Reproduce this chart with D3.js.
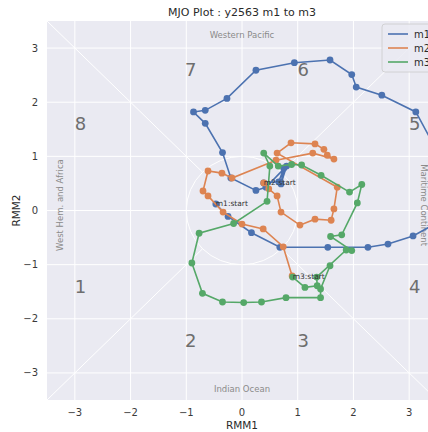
<!DOCTYPE html>
<html>
<head>
<meta charset="utf-8">
<script src="https://cdn.jsdelivr.net/npm/d3@7"></script>
<style>
  html, body { margin: 0; padding: 0; background: #ffffff; }
  svg { display: block; font-family: "DejaVu Sans", sans-serif; }
</style>
</head>
<body>
<svg id="chart" width="428" height="432"></svg>
<script>
// ---- data (RMM1, RMM2) ----
const seriesNames = ["m1", "m2", "m3"];
const m1RMM1 = [-0.47, -0.25, 0.17, 0.68, 1.54, 2.26, 2.62, 3.07, 3.55, 3.65, 3.50, 3.12, 2.51, 2.05, 1.97, 1.58, 0.94, 0.25, -0.27, -0.66, -0.87, -0.66, -0.35, -0.20, 0.25, 0.43, 0.80, 0.70, 0.75, 0.66, 0.39];
const m1RMM2 = [0.12, -0.11, -0.41, -0.68, -0.68, -0.68, -0.62, -0.47, -0.20, 0.45, 1.10, 1.82, 2.13, 2.28, 2.51, 2.78, 2.73, 2.59, 2.07, 1.85, 1.82, 1.61, 1.07, 0.60, 0.37, 0.43, 0.82, 0.49, 0.78, 0.53, 0.51];
const m2RMM1 = [0.39, 0.48, 0.63, 0.70, 1.04, 1.31, 1.60, 1.65, 1.71, 0.63, 0.88, 1.31, 1.47, 1.53, 1.65, 1.27, 0.61, -0.18, -0.36, -0.61, -0.70, -0.61, -0.34, 0.00, 0.38, 0.74, 0.90];
const m2RMM2 = [0.51, 0.40, 0.27, -0.03, -0.27, -0.16, -0.18, 0.03, 0.43, 1.06, 1.25, 1.23, 1.13, 1.02, 0.95, 1.06, 0.93, 0.60, 0.69, 0.73, 0.36, 0.27, -0.03, -0.25, -0.34, -0.67, -1.21];
const m3RMM1 = [0.91, 1.13, 1.35, 1.34, 1.87, 1.97, 1.59, 1.79, 2.07, 2.15, 1.93, 1.42, 1.07, 0.89, 0.65, 0.39, 0.50, 0.45, -0.15, -0.77, -0.90, -0.71, -0.35, 0.03, 0.35, 0.79, 1.41, 1.41, 1.58];
const m3RMM2 = [-1.23, -1.42, -1.39, -1.23, -0.73, -0.74, -0.48, -0.45, 0.14, 0.48, 0.34, 0.65, 0.84, 0.85, 0.82, 1.06, 0.82, 0.17, -0.24, -0.42, -0.97, -1.53, -1.69, -1.70, -1.69, -1.61, -1.61, -1.45, -1.02];
const tickValues = [-3, -2, -1, 0, 1, 2, 3];
const phaseLabels = ["1", "2", "3", "4", "5", "6", "7", "8"];
const regionLabels = ["Western Pacific", "Indian Ocean", "West Hem. and Africa", "Maritime Continent"];
const titleText = "MJO Plot : y2563 m1 to m3";

// ---- styling / layout ----
const colors = ["#4C72B0", "#DD8452", "#55A868"];
const svg = d3.select("#chart");
const x = d3.scaleLinear().domain([-3.5, 3.5]).range([47, 437]);
const y = d3.scaleLinear().domain([-3.5, 3.5]).range([400, 21]);
const [x0, x1] = x.range();
const [y1, y0] = y.range();

svg.append("defs").append("clipPath").attr("id", "plotclip")
  .append("rect").attr("x", x0).attr("y", y0).attr("width", x1 - x0).attr("height", y1 - y0);

// background
svg.append("rect").attr("x", x0).attr("y", y0).attr("width", x1 - x0).attr("height", y1 - y0)
  .attr("fill", "#EAEAF2");

const plot = svg.append("g").attr("clip-path", "url(#plotclip)");

// grid
plot.selectAll(".gx").data(tickValues).join("line")
  .attr("x1", d => x(d)).attr("x2", d => x(d)).attr("y1", y0).attr("y2", y1)
  .attr("stroke", "#fff").attr("stroke-width", 1);
plot.selectAll(".gy").data(tickValues).join("line")
  .attr("y1", d => y(d)).attr("y2", d => y(d)).attr("x1", x0).attr("x2", x1)
  .attr("stroke", "#fff").attr("stroke-width", 1);

// unit circle
plot.append("ellipse").attr("cx", x(0)).attr("cy", y(0))
  .attr("rx", x(1) - x(0)).attr("ry", y(0) - y(1))
  .attr("fill", "none").attr("stroke", "#fff").attr("stroke-width", 1);

// diagonals outside the circle
const r45 = Math.SQRT1_2;
[[1, 1], [1, -1], [-1, 1], [-1, -1]].forEach(([sx, sy]) => {
  plot.append("line")
    .attr("x1", x(sx * r45)).attr("y1", y(sy * r45))
    .attr("x2", x(sx * 3.5)).attr("y2", y(sy * 3.5))
    .attr("stroke", "#fff").attr("stroke-width", 1);
});

// phase numbers
const phasePos = [[-2.9, -1.4], [-0.92, -2.4], [1.1, -2.4], [3.1, -1.4], [3.1, 1.6], [1.1, 2.6], [-0.92, 2.6], [-2.9, 1.6]];
plot.selectAll(".phase").data(phaseLabels).join("text")
  .attr("x", (d, i) => x(phasePos[i][0])).attr("y", (d, i) => y(phasePos[i][1]))
  .attr("text-anchor", "middle").attr("dy", "0.35em")
  .attr("font-size", 18).attr("fill", "#6e6e6e").text(d => d);

// region labels
plot.append("text").attr("x", x(0)).attr("y", y(3.24)).attr("dy", "0.35em")
  .attr("text-anchor", "middle").attr("font-size", 8.5).attr("fill", "#8a8a8a").text(regionLabels[0]);
plot.append("text").attr("x", x(0)).attr("y", y(-3.29)).attr("dy", "0.35em")
  .attr("text-anchor", "middle").attr("font-size", 8.5).attr("fill", "#8a8a8a").text(regionLabels[1]);
plot.append("text").attr("transform", `translate(${x(-3.27)},${y(0.1)}) rotate(-90)`).attr("dy", "0.35em")
  .attr("text-anchor", "middle").attr("font-size", 8.5).attr("fill", "#8a8a8a").text(regionLabels[2]);
plot.append("text").attr("transform", `translate(${x(3.27)},${y(0.1)}) rotate(90)`).attr("dy", "0.35em")
  .attr("text-anchor", "middle").attr("font-size", 8.5).attr("fill", "#8a8a8a").text(regionLabels[3]);

// series
const allSeries = [
  { name: seriesNames[0], xs: m1RMM1, ys: m1RMM2 },
  { name: seriesNames[1], xs: m2RMM1, ys: m2RMM2 },
  { name: seriesNames[2], xs: m3RMM1, ys: m3RMM2 }
];
const line = d3.line().x(d => x(d[0])).y(d => y(d[1]));
allSeries.forEach((s, i) => {
  const pts = s.xs.map((v, j) => [v, s.ys[j]]);
  const g = plot.append("g");
  g.append("path").datum(pts).attr("d", line)
    .attr("fill", "none").attr("stroke", colors[i]).attr("stroke-width", 1.6);
  g.selectAll("circle").data(pts).join("circle")
    .attr("cx", d => x(d[0])).attr("cy", d => y(d[1])).attr("r", 3.4)
    .attr("fill", colors[i]);
});
allSeries.forEach((s, i) => {
  plot.append("text").attr("x", x(s.xs[0])).attr("y", y(s.ys[0]))
    .attr("dy", "0.3em").attr("font-size", 7.5).attr("fill", "#333")
    .text(s.name + ":start");
});

// axes tick labels
svg.selectAll(".xt").data(tickValues).join("text")
  .attr("x", d => x(d)).attr("y", 416).attr("text-anchor", "middle")
  .attr("font-size", 10).attr("fill", "#3a3a3a").text(d3.format("d"));
svg.selectAll(".yt").data(tickValues).join("text")
  .attr("x", 38).attr("y", d => y(d)).attr("dy", "0.35em").attr("text-anchor", "end")
  .attr("font-size", 10).attr("fill", "#3a3a3a").text(d3.format("d"));

svg.append("text").attr("x", x(0)).attr("y", 429).attr("text-anchor", "middle")
  .attr("font-size", 10.5).attr("fill", "#2a2a2a").text("RMM1");
svg.append("text").attr("transform", `translate(16,${y(0)}) rotate(-90)`).attr("text-anchor", "middle")
  .attr("dy", "0.35em").attr("font-size", 10.5).attr("fill", "#2a2a2a").text("RMM2");
svg.append("text").attr("x", x(0)).attr("y", 16).attr("text-anchor", "middle")
  .attr("font-size", 11).attr("fill", "#2a2a2a").text(titleText);

// legend
const lg = svg.append("g").attr("transform", "translate(382,24)");
lg.append("rect").attr("width", 70).attr("height", 48).attr("rx", 3)
  .attr("fill", "#EAEAF2").attr("fill-opacity", 0.85).attr("stroke", "#cccccc").attr("stroke-width", 0.8);
seriesNames.forEach((n, i) => {
  lg.append("line").attr("x1", 6).attr("x2", 26).attr("y1", 10 + i * 14).attr("y2", 10 + i * 14)
    .attr("stroke", colors[i]).attr("stroke-width", 1.6);
  lg.append("text").attr("x", 32).attr("y", 10 + i * 14).attr("dy", "0.35em")
    .attr("font-size", 10).attr("fill", "#2a2a2a").text(n);
});
</script>
</body>
</html>
